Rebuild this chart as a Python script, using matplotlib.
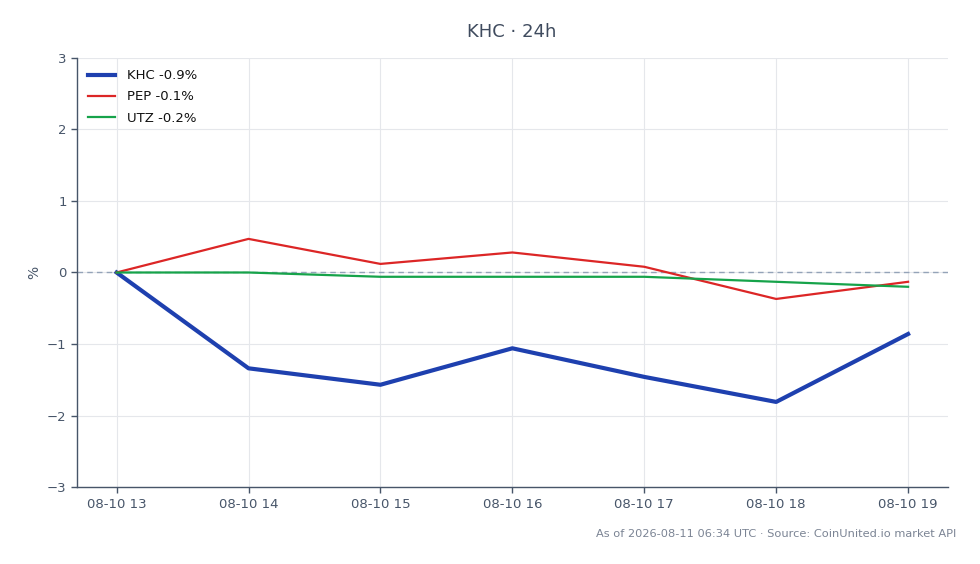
import matplotlib
matplotlib.use("Agg")
import matplotlib.pyplot as plt

times = ["08-10 13", "08-10 14", "08-10 15", "08-10 16", "08-10 17", "08-10 18", "08-10 19"]
khc = [0.0, -1.34, -1.57, -1.06, -1.46, -1.81, -0.86]
pep = [0.0, 0.47, 0.12, 0.28, 0.08, -0.37, -0.13]
utz = [0.0, 0.0, -0.06, -0.06, -0.06, -0.13, -0.20]
labels = ["KHC -0.9%", "PEP -0.1%", "UTZ -0.2%"]
colors = ["#1e40af", "#dc2626", "#16a34a"]
widths = [3.0, 1.6, 1.6]

plt.rcParams['font.family'] = ['DejaVu Sans']
fig = plt.figure(figsize=(9.8, 5.64), dpi=100)
ax = fig.add_axes([0.0786, 0.1365, 0.8884, 0.7607])

x = list(range(len(times)))
for ys, lab, c, w in zip([khc, pep, utz], labels, colors, widths):
    ax.plot(x, ys, color=c, lw=w, label=lab, zorder=3)

ax.axhline(0, color="#94a3b8", lw=1, ls=(0, (4, 3)), zorder=2)
ax.set_xlim(-0.3, 6.3)
ax.set_ylim(-3, 3)
ax.set_xticks(x)
ax.set_xticklabels(times)
ax.set_yticks([-3, -2, -1, 0, 1, 2, 3])
ax.set_yticklabels(["\u22123", "\u22122", "\u22121", "0", "1", "2", "3"])
ax.grid(True, color="#e5e7eb", lw=0.8)
ax.set_axisbelow(True)
for s in ["top", "right"]:
    ax.spines[s].set_visible(False)
for s in ["left", "bottom"]:
    ax.spines[s].set_color("#475569")
    ax.spines[s].set_linewidth(1)
ax.tick_params(colors="#475569", labelsize=9.5, length=4, width=1)
ax.tick_params(axis="x", pad=4)
ax.set_ylabel("%", color="#475569", fontsize=10)

leg = ax.legend(loc="upper left", frameon=False, fontsize=9.5, handlelength=2.0,
                handletextpad=0.95, borderaxespad=0.45, labelspacing=0.62)
for t in leg.get_texts():
    t.set_color("#111111")

fig.text(0.522, 0.943, "KHC \u00b7 24h", ha="center", va="center", fontsize=13, color="#3f4b5e")
fig.text(0.976, 0.053, "As of 2026-08-11 06:34 UTC \u00b7 Source: CoinUnited.io market API",
         ha="right", va="center", fontsize=8.2, color="#7b8494")

fig.savefig("out.png", dpi=100)
